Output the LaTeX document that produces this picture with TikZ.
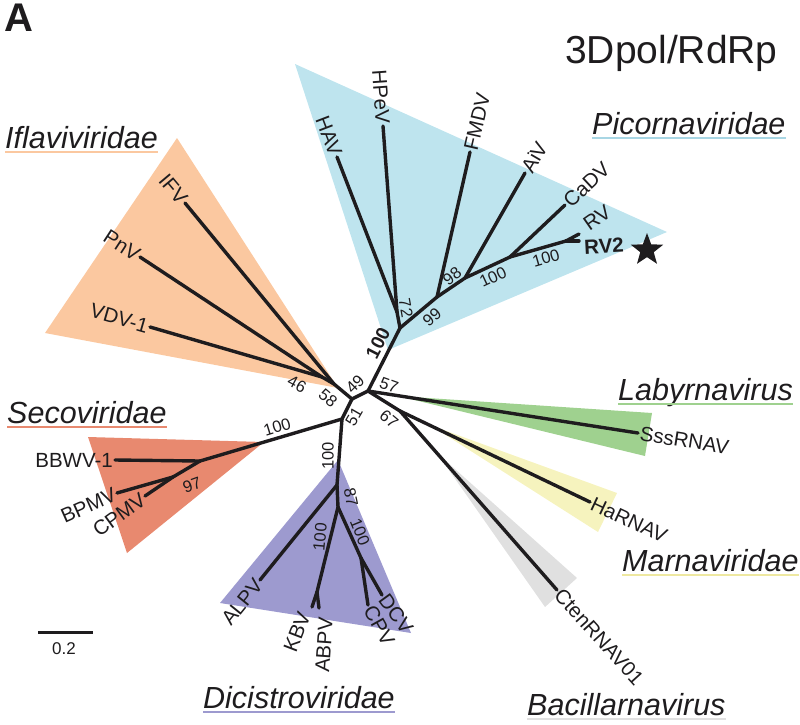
\documentclass[tikz,border=0pt]{standalone}
\usepackage{fontspec}
\setmainfont{Liberation Sans}
\usetikzlibrary{shapes.geometric}
\definecolor{picol}{RGB}{190,228,238}
\definecolor{picoline}{RGB}{168,214,228}
\definecolor{iflcol}{RGB}{251,200,160}
\definecolor{secol}{RGB}{232,137,111}
\definecolor{dicol}{RGB}{157,154,207}
\definecolor{labcol}{RGB}{159,209,143}
\definecolor{marcol}{RGB}{246,243,190}
\definecolor{marline}{RGB}{238,232,160}
\definecolor{bacol}{RGB}{224,224,224}
\definecolor{ink}{RGB}{30,28,30}
\begin{document}
\begin{tikzpicture}[x=1pt,y=-1pt,
  br/.style={line width=3.4pt, line cap=round, line join=round, draw=ink},
  leaf/.style={font=\fontsize{20.5}{24}\selectfont, inner sep=2pt, text=ink},
  bs/.style={font=\fontsize{16.5}{19}\selectfont, inner sep=0pt, text=ink},
  fam/.style={font=\fontsize{30.5}{34}\selectfont\itshape, inner sep=0pt, text=ink},
  uline/.style={line width=2.2pt}]
\useasboundingbox (0,0) rectangle (800,724);

% clade shading
\fill[picol] (295,64) -- (667,232) -- (388,350) -- cycle;
\fill[iflcol] (177,138) -- (45,333) -- (338,388) -- cycle;
\fill[secol] (88,437) -- (127,553) -- (264,442) -- cycle;
\fill[dicol] (338,460) -- (220,603) -- (411,633) -- cycle;
\fill[labcol] (398,396) -- (652,413) -- (645,456) -- cycle;
\fill[marcol] (430,425) -- (617,493) -- (598,532) -- cycle;
\fill[bacol] (437,453) -- (577,578) -- (545,607) -- cycle;

% internal nodes
\coordinate (N1) at (368,391);
\coordinate (N2) at (352,399);
\coordinate (N3) at (342,419);
\coordinate (N4) at (400,411);
\coordinate (I0) at (334,384);
\coordinate (I1) at (322,377);
\coordinate (P0) at (400,328);
\coordinate (P1) at (397,312);
\coordinate (P2) at (437,297);
\coordinate (P3) at (465,278);
\coordinate (P4) at (510,257);
\coordinate (P5) at (566,241);
\coordinate (S1) at (200,461);
\coordinate (S2) at (173,477);
\coordinate (D0) at (337,485);
\coordinate (D1) at (338,507);
\coordinate (D2) at (317,592);
\coordinate (D3) at (361,558);
% tips
\coordinate (HAV) at (337,157);
\coordinate (HPeV) at (383,126);
\coordinate (FMDV) at (470,152);
\coordinate (AiV) at (525,173);
\coordinate (CaDV) at (565,205);
\coordinate (RV) at (579,234);
\coordinate (RVtwo) at (579,241);
\coordinate (IFV) at (185,203);
\coordinate (PnV) at (140,257);
\coordinate (VDV) at (150,327);
\coordinate (BBWV) at (115,460);
\coordinate (BPMV) at (117,493);
\coordinate (CPMV) at (145,496);
\coordinate (ALPV) at (260,580);
\coordinate (KBV) at (312,607);
\coordinate (ABPV) at (319,608);
\coordinate (CPV) at (368,605);
\coordinate (DCV) at (382,595);
\coordinate (Sss) at (638,433);
\coordinate (Ha) at (590,502);
\coordinate (Cten) at (557,590);

% branches
\draw[br] (N1) -- (N2);
\draw[br] (N2) -- (N3);
\draw[br] (N2) -- (I0);
\draw[br] (I0) -- (IFV);
\draw[br] (I0) -- (I1);
\draw[br] (I1) -- (PnV);
\draw[br] (I1) -- (VDV);
\draw[br] (N1) -- (P0);
\draw[br] (P0) -- (P1);
\draw[br] (P1) -- (HAV);
\draw[br] (P1) -- (HPeV);
\draw[br] (P0) -- (P2);
\draw[br] (P2) -- (FMDV);
\draw[br] (P2) -- (P3);
\draw[br] (P3) -- (AiV);
\draw[br] (P3) -- (P4);
\draw[br] (P4) -- (CaDV);
\draw[br] (P4) -- (P5);
\draw[br] (P5) -- (RV);
\draw[br] (P5) -- (RVtwo);
\draw[br] (N3) -- (S1);
\draw[br] (S1) -- (BBWV);
\draw[br] (S1) -- (S2);
\draw[br] (S2) -- (BPMV);
\draw[br] (S2) -- (CPMV);
\draw[br] (N3) -- (D0);
\draw[br] (D0) -- (ALPV);
\draw[br] (D0) -- (D1);
\draw[br] (D1) -- (D2);
\draw[br] (D2) -- (KBV);
\draw[br] (D2) -- (ABPV);
\draw[br] (D1) -- (D3);
\draw[br] (D3) -- (CPV);
\draw[br] (D3) -- (DCV);
\draw[br] (N1) -- (Sss);
\draw[br] (N1) -- (N4);
\draw[br] (N4) -- (Ha);
\draw[br] (N4) -- (Cten);

% leaf labels
\node[leaf, anchor=east, rotate=-69] (tHAV) at (HAV) {HAV};
\node[leaf, anchor=east, rotate=-86] (tHPeV) at (HPeV) {HPeV};
\node[leaf, anchor=west, rotate=77] (tFMDV) at (FMDV) {FMDV};
\node[leaf, anchor=west, rotate=60] (tAiV) at (AiV) {AiV};
\node[leaf, anchor=west, rotate=43] (tCaDV) at (CaDV) {CaDV};
\node[leaf, rotate=35] (tRV) at (597,218) {RV};
\node[leaf, rotate=3, font=\fontsize{20.5}{24}\selectfont\bfseries] (tRVtwo) at (604,246) {RV2};
\node[star, star points=5, star point ratio=2.4, fill=ink, minimum size=34pt, inner sep=0pt] (star) at (647,250) {};
\node[leaf, anchor=east, rotate=-50] (tIFV) at (IFV) {IFV};
\node[leaf, anchor=east, rotate=-33] (tPnV) at (PnV) {PnV};
\node[leaf, anchor=east, rotate=-16] (tVDV) at (VDV) {VDV-1};
\node[leaf, anchor=east] (tBBWV) at (BBWV) {BBWV-1};
\node[leaf, anchor=east, rotate=24] (tBPMV) at (BPMV) {BPMV};
\node[leaf, anchor=east, rotate=36] (tCPMV) at (CPMV) {CPMV};
\node[leaf, anchor=east, rotate=51] (tALPV) at (ALPV) {ALPV};
\node[leaf, rotate=69] (tKBV) at (297,632) {KBV};
\node[leaf, rotate=86] (tABPV) at (324,645) {ABPV};
\node[leaf, anchor=west, rotate=-61] (tCPV) at (CPV) {CPV};
\node[leaf, anchor=west, rotate=-54] (tDCV) at (DCV) {DCV};
\node[leaf, anchor=west, rotate=-9] (tSss) at (Sss) {SssRNAV};
\node[leaf, anchor=west, rotate=-25] (tHa) at (Ha) {HaRNAV};
\node[leaf, anchor=west, rotate=-48] (tCten) at (Cten) {CtenRNAV01};

% bootstrap values
\node[bs, rotate=63, font=\fontsize{19}{21}\selectfont\bfseries] (b1) at (378,343) {100};
\node[bs, rotate=-80] (b2) at (406,308) {72};
\node[bs, rotate=40] (b3) at (432,317) {99};
\node[bs, rotate=38] (b4) at (452,276) {98};
\node[bs, rotate=25] (b5) at (493,277) {100};
\node[bs, rotate=16] (b6) at (546,258) {100};
\node[bs, rotate=-28] (b7) at (297,384) {46};
\node[bs, rotate=-40] (b8) at (328,398) {58};
\node[bs, rotate=45] (b9) at (355,384) {49};
\node[bs, rotate=-20] (b10) at (389,385) {57};
\node[bs, rotate=60] (b11) at (354,417) {51};
\node[bs, rotate=-40] (b12) at (389,419) {67};
\node[bs, rotate=17] (b13) at (277,427) {100};
\node[bs, rotate=20] (b14) at (192,485) {97};
\node[bs, rotate=90] (b15) at (328,456) {100};
\node[bs, rotate=-78] (b16) at (351,497) {87};
\node[bs, rotate=85] (b17) at (320,537) {100};
\node[bs, rotate=-68] (b18) at (360,532) {100};

% family labels
\node[fam, anchor=base west] (fPic) at (592,134) {Picornaviridae};
\draw[uline, picoline] ([yshift=-4pt]fPic.base west) -- ([yshift=-4pt]fPic.base east);
\node[fam, anchor=base west] (fIfl) at (5,148) {Iflaviviridae};
\draw[uline, iflcol] ([yshift=-4pt]fIfl.base west) -- ([yshift=-4pt]fIfl.base east);
\node[fam, anchor=base west] (fSec) at (7,423) {Secoviridae};
\draw[uline, secol] ([yshift=-4pt]fSec.base west) -- ([yshift=-4pt]fSec.base east);
\node[fam, anchor=base west] (fLab) at (618,400) {Labyrnavirus};
\draw[uline, labcol] ([yshift=-4pt]fLab.base west) -- ([yshift=-4pt]fLab.base east);
\node[fam, anchor=base west] (fMar) at (622,571) {Marnaviridae};
\draw[uline, marline] ([yshift=-4pt]fMar.base west) -- ([yshift=-4pt]fMar.base east);
\node[fam, anchor=base west] (fBac) at (527,715) {Bacillarnavirus};
\draw[uline, bacol] ([yshift=-4pt]fBac.base west) -- ([yshift=-4pt]fBac.base east);
\node[fam, anchor=base west] (fDic) at (203,708) {Dicistroviridae};
\draw[uline, dicol] ([yshift=-4pt]fDic.base west) -- ([yshift=-4pt]fDic.base east);

% titles
\node[anchor=north west, inner sep=0pt, font=\fontsize{40}{44}\selectfont\bfseries, text=ink] (panel) at (4,4) {A};
\node[anchor=base west, inner sep=0pt, font=\fontsize{39}{43}\selectfont, text=ink] (title) at (565,63) {3Dpol/RdRp};

% scale bar
\coordinate (sb1) at (38,632);
\coordinate (sb2) at (93,632);
\draw[line width=3pt, draw=ink] (sb1) -- (sb2);
\node[bs, font=\fontsize{17}{19}\selectfont] (sbl) at (64,649) {0.2};
\end{tikzpicture}
\end{document}
